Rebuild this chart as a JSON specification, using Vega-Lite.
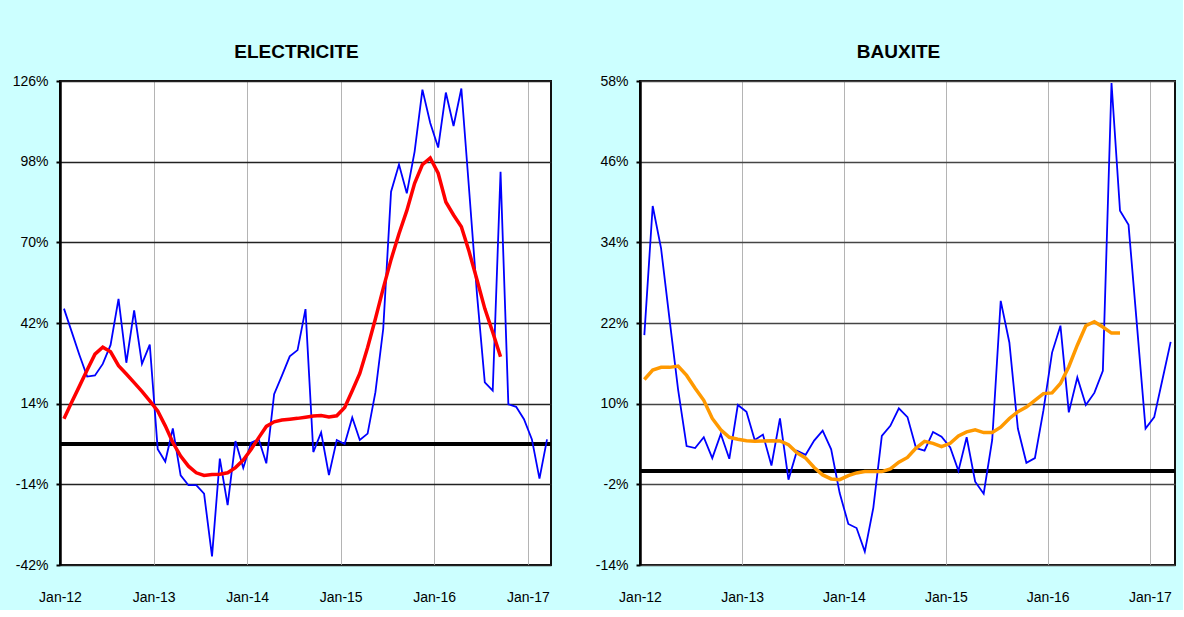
{
  "$schema": "https://vega.github.io/schema/vega-lite/v6.json",
  "background": "#CCFFFF",
  "padding": {"left": 11, "top": 42, "right": 5, "bottom": 5},
  "spacing": 40,
  "config": {
    "font": "Liberation Sans Narrow, Liberation Sans, Arial, sans-serif",
    "view": {"fill": "white", "stroke": "#111111", "strokeWidth": 2},
    "axis": {"title": null, "labelFont": "Liberation Sans Narrow, Liberation Sans, Arial, sans-serif", "labelColor": "black", "labelFontSize": 14},
    "title": {"font": "Liberation Sans Narrow, Liberation Sans, Arial, sans-serif", "fontSize": 19, "fontWeight": "bold", "color": "black", "anchor": "middle", "frame": "group", "dx": -9, "offset": 12}
  },
  "datasets": {
    "elec": [
      {"d": "2012-01-15", "v": 47, "ma": 8.8}, {"d": "2012-02-15", "v": 39, "ma": 14.5}, {"d": "2012-03-15", "v": 31, "ma": 20},
      {"d": "2012-04-15", "v": 23.4, "ma": 25.7}, {"d": "2012-05-15", "v": 23.8, "ma": 31.2}, {"d": "2012-06-15", "v": 27.8, "ma": 33.6},
      {"d": "2012-07-15", "v": 34.4, "ma": 32}, {"d": "2012-08-15", "v": 50.4, "ma": 27.2}, {"d": "2012-09-15", "v": 28.2, "ma": 24.3},
      {"d": "2012-10-15", "v": 46.4, "ma": 21.3}, {"d": "2012-11-15", "v": 27.8, "ma": 18.3}, {"d": "2012-12-15", "v": 34.5, "ma": 15},
      {"d": "2013-01-15", "v": -1.8, "ma": 11.5}, {"d": "2013-02-15", "v": -6.1, "ma": 6.3}, {"d": "2013-03-15", "v": 5.4, "ma": 0.5},
      {"d": "2013-04-15", "v": -10.9, "ma": -4.2}, {"d": "2013-05-15", "v": -14.3, "ma": -7.7}, {"d": "2013-06-15", "v": -14.3, "ma": -10},
      {"d": "2013-07-15", "v": -17.2, "ma": -10.9}, {"d": "2013-08-15", "v": -39, "ma": -10.6}, {"d": "2013-09-15", "v": -5.1, "ma": -10.5},
      {"d": "2013-10-15", "v": -21.2, "ma": -10}, {"d": "2013-11-15", "v": 1, "ma": -8.2}, {"d": "2013-12-15", "v": -8.3, "ma": -5.6},
      {"d": "2014-01-15", "v": 0.5, "ma": -1.8}, {"d": "2014-02-15", "v": 1.6, "ma": 2.2}, {"d": "2014-03-15", "v": -6.7, "ma": 6.1},
      {"d": "2014-04-15", "v": 17.3, "ma": 7.7}, {"d": "2014-05-15", "v": 23.7, "ma": 8.3}, {"d": "2014-06-15", "v": 30.4, "ma": 8.6},
      {"d": "2014-07-15", "v": 32.6, "ma": 8.9}, {"d": "2014-08-15", "v": 46.8, "ma": 9.3}, {"d": "2014-09-15", "v": -2.8, "ma": 9.7},
      {"d": "2014-10-15", "v": 4, "ma": 9.9}, {"d": "2014-11-15", "v": -10.8, "ma": 9.4}, {"d": "2014-12-15", "v": 1.4, "ma": 9.8},
      {"d": "2015-01-15", "v": 0, "ma": 12.7}, {"d": "2015-02-15", "v": 9.2, "ma": 18.5}, {"d": "2015-03-15", "v": 1.4, "ma": 24.5},
      {"d": "2015-04-15", "v": 3.6, "ma": 33.5}, {"d": "2015-05-15", "v": 18, "ma": 43.5}, {"d": "2015-06-15", "v": 40, "ma": 54},
      {"d": "2015-07-15", "v": 87.6, "ma": 64}, {"d": "2015-08-15", "v": 97, "ma": 73}, {"d": "2015-09-15", "v": 87, "ma": 81},
      {"d": "2015-10-15", "v": 101.5, "ma": 90.5}, {"d": "2015-11-15", "v": 123, "ma": 97}, {"d": "2015-12-15", "v": 111.4, "ma": 99.3},
      {"d": "2016-01-15", "v": 102.9, "ma": 94}, {"d": "2016-02-15", "v": 122, "ma": 84}, {"d": "2016-03-15", "v": 110.4, "ma": 79.5},
      {"d": "2016-04-15", "v": 123.4, "ma": 75.4}, {"d": "2016-05-15", "v": 88, "ma": 66.7}, {"d": "2016-06-15", "v": 52, "ma": 57},
      {"d": "2016-07-15", "v": 21.4, "ma": 47}, {"d": "2016-08-15", "v": 18.5, "ma": 38.8}, {"d": "2016-09-15", "v": 94.5, "ma": 30.3},
      {"d": "2016-10-15", "v": 13.8, "ma": null}, {"d": "2016-11-15", "v": 12.9, "ma": null}, {"d": "2016-12-15", "v": 8.6, "ma": null},
      {"d": "2017-01-15", "v": 1.6, "ma": null}, {"d": "2017-02-15", "v": -12, "ma": null}, {"d": "2017-03-15", "v": 1.6, "ma": null}
    ],
    "baux": [
      {"d": "2012-01-15", "v": 20.2, "ma": 13.6}, {"d": "2012-02-15", "v": 39.4, "ma": 15}, {"d": "2012-03-15", "v": 33.1, "ma": 15.4},
      {"d": "2012-04-15", "v": 22.5, "ma": 15.4}, {"d": "2012-05-15", "v": 12.1, "ma": 15.6}, {"d": "2012-06-15", "v": 3.7, "ma": 14.2},
      {"d": "2012-07-15", "v": 3.4, "ma": 12.3}, {"d": "2012-08-15", "v": 5, "ma": 10.5}, {"d": "2012-09-15", "v": 1.9, "ma": 7.8},
      {"d": "2012-10-15", "v": 5.5, "ma": 6.1}, {"d": "2012-11-15", "v": 1.8, "ma": 5}, {"d": "2012-12-15", "v": 9.8, "ma": 4.7},
      {"d": "2013-01-15", "v": 8.8, "ma": 4.5}, {"d": "2013-02-15", "v": 4.6, "ma": 4.4}, {"d": "2013-03-15", "v": 5.4, "ma": 4.45},
      {"d": "2013-04-15", "v": 0.8, "ma": 4.5}, {"d": "2013-05-15", "v": 7.8, "ma": 4.45}, {"d": "2013-06-15", "v": -1.3, "ma": 3.9},
      {"d": "2013-07-15", "v": 3, "ma": 2.7}, {"d": "2013-08-15", "v": 2.4, "ma": 1.9}, {"d": "2013-09-15", "v": 4.5, "ma": 0.5},
      {"d": "2013-10-15", "v": 6, "ma": -0.6}, {"d": "2013-11-15", "v": 3.2, "ma": -1.2}, {"d": "2013-12-15", "v": -3.3, "ma": -1.3},
      {"d": "2014-01-15", "v": -7.9, "ma": -0.7}, {"d": "2014-02-15", "v": -8.5, "ma": -0.3}, {"d": "2014-03-15", "v": -12, "ma": -0.1},
      {"d": "2014-04-15", "v": -5.5, "ma": -0.1}, {"d": "2014-05-15", "v": 5.2, "ma": -0.1}, {"d": "2014-06-15", "v": 6.7, "ma": 0.3},
      {"d": "2014-07-15", "v": 9.3, "ma": 1.3}, {"d": "2014-08-15", "v": 8, "ma": 2}, {"d": "2014-09-15", "v": 3.4, "ma": 3.4},
      {"d": "2014-10-15", "v": 3, "ma": 4.4}, {"d": "2014-11-15", "v": 5.8, "ma": 4.1}, {"d": "2014-12-15", "v": 5.1, "ma": 3.6},
      {"d": "2015-01-15", "v": 3.5, "ma": 4.1}, {"d": "2015-02-15", "v": 0, "ma": 5.2}, {"d": "2015-03-15", "v": 5, "ma": 5.8},
      {"d": "2015-04-15", "v": -1.6, "ma": 6.1}, {"d": "2015-05-15", "v": -3.4, "ma": 5.7}, {"d": "2015-06-15", "v": 4.6, "ma": 5.7},
      {"d": "2015-07-15", "v": 25.3, "ma": 6.5}, {"d": "2015-08-15", "v": 19.1, "ma": 7.8}, {"d": "2015-09-15", "v": 6.3, "ma": 8.8},
      {"d": "2015-10-15", "v": 1.2, "ma": 9.5}, {"d": "2015-11-15", "v": 1.9, "ma": 10.5}, {"d": "2015-12-15", "v": 9, "ma": 11.5},
      {"d": "2016-01-15", "v": 17.6, "ma": 11.6}, {"d": "2016-02-15", "v": 21.6, "ma": 13}, {"d": "2016-03-15", "v": 8.7, "ma": 15.5},
      {"d": "2016-04-15", "v": 13.9, "ma": 18.7}, {"d": "2016-05-15", "v": 9.8, "ma": 21.6}, {"d": "2016-06-15", "v": 11.6, "ma": 22.2},
      {"d": "2016-07-15", "v": 14.9, "ma": 21.4}, {"d": "2016-08-15", "v": 57.7, "ma": 20.5}, {"d": "2016-09-15", "v": 38.7, "ma": 20.5},
      {"d": "2016-10-15", "v": 36.6, "ma": null}, {"d": "2016-11-15", "v": 21.5, "ma": null}, {"d": "2016-12-15", "v": 6.3, "ma": null},
      {"d": "2017-01-15", "v": 8, "ma": null}, {"d": "2017-02-15", "v": 13.6, "ma": null}, {"d": "2017-03-15", "v": 19.2, "ma": null}
    ]
  },
  "hconcat": [
    {
      "title": {"text": "ELECTRICITE"},
      "width": 491,
      "height": 484,
      "data": {"name": "elec"},
      "layer": [
        {
          "mark": {"type": "rule", "color": "black", "strokeWidth": 3.5},
          "encoding": {
            "y": {"datum": 0, "type": "quantitative",
              "scale": {"domain": [-42, 126], "nice": false, "zero": false},
              "axis": {"values": [-42, -14, 14, 42, 70, 98, 126], "labelExpr": "datum.value + '%'", "grid": true, "gridColor": "#222222", "gridWidth": 1.3, "domainColor": "black", "domainWidth": 2.5, "tickColor": "black", "tickSize": 4, "tickWidth": 2, "labelPadding": 8}}
          }
        },
        {
          "mark": {"type": "line", "color": "#0000FF", "strokeWidth": 1.8},
          "encoding": {
            "x": {"field": "d", "type": "temporal", "timeUnit": "yearmonth", "bandPosition": 0.5,
              "scale": {"domain": [{"year": 2012, "month": 1, "date": 1}, {"year": 2017, "month": 4, "date": 1}], "nice": false},
              "axis": {"values": [{"year": 2012, "month": 1, "date": 1}, {"year": 2013, "month": 1, "date": 1}, {"year": 2014, "month": 1, "date": 1}, {"year": 2015, "month": 1, "date": 1}, {"year": 2016, "month": 1, "date": 1}, {"year": 2017, "month": 1, "date": 1}],
                "format": "%b-%y", "grid": true, "gridColor": "#B4B4B4", "gridWidth": 1, "domain": false, "ticks": false, "labelPadding": 25, "labelFlush": false, "labelOverlap": false}},
            "y": {"field": "v", "type": "quantitative", "scale": {"domain": [-42, 126], "nice": false, "zero": false}}
          }
        },
        {
          "mark": {"type": "line", "color": "#FF0000", "strokeWidth": 3.5},
          "encoding": {
            "x": {"field": "d", "type": "temporal", "timeUnit": "yearmonth", "bandPosition": 0.5},
            "y": {"field": "ma", "type": "quantitative", "scale": {"domain": [-42, 126], "nice": false, "zero": false}}
          }
        }
      ]
    },
    {
      "title": {"text": "BAUXITE"},
      "width": 535,
      "height": 484,
      "data": {"name": "baux"},
      "layer": [
        {
          "mark": {"type": "rule", "color": "black", "strokeWidth": 3.5},
          "encoding": {
            "y": {"datum": 0, "type": "quantitative",
              "scale": {"domain": [-14, 58], "nice": false, "zero": false},
              "axis": {"values": [-14, -2, 10, 22, 34, 46, 58], "labelExpr": "datum.value + '%'", "grid": true, "gridColor": "#444444", "gridWidth": 1.3, "domainColor": "black", "domainWidth": 2.5, "tickColor": "black", "tickSize": 4, "tickWidth": 2, "labelPadding": 8}}
          }
        },
        {
          "mark": {"type": "line", "color": "#0000FF", "strokeWidth": 1.8},
          "encoding": {
            "x": {"field": "d", "type": "temporal", "timeUnit": "yearmonth", "bandPosition": 0.5,
              "scale": {"domain": [{"year": 2012, "month": 1, "date": 1}, {"year": 2017, "month": 4, "date": 1}], "nice": false},
              "axis": {"values": [{"year": 2012, "month": 1, "date": 1}, {"year": 2013, "month": 1, "date": 1}, {"year": 2014, "month": 1, "date": 1}, {"year": 2015, "month": 1, "date": 1}, {"year": 2016, "month": 1, "date": 1}, {"year": 2017, "month": 1, "date": 1}],
                "format": "%b-%y", "grid": true, "gridColor": "#B4B4B4", "gridWidth": 1, "domain": false, "ticks": false, "labelPadding": 25, "labelFlush": false, "labelOverlap": false}},
            "y": {"field": "v", "type": "quantitative", "scale": {"domain": [-14, 58], "nice": false, "zero": false}}
          }
        },
        {
          "mark": {"type": "line", "color": "#FF9900", "strokeWidth": 3.5},
          "encoding": {
            "x": {"field": "d", "type": "temporal", "timeUnit": "yearmonth", "bandPosition": 0.5},
            "y": {"field": "ma", "type": "quantitative", "scale": {"domain": [-14, 58], "nice": false, "zero": false}}
          }
        }
      ]
    }
  ]
}
